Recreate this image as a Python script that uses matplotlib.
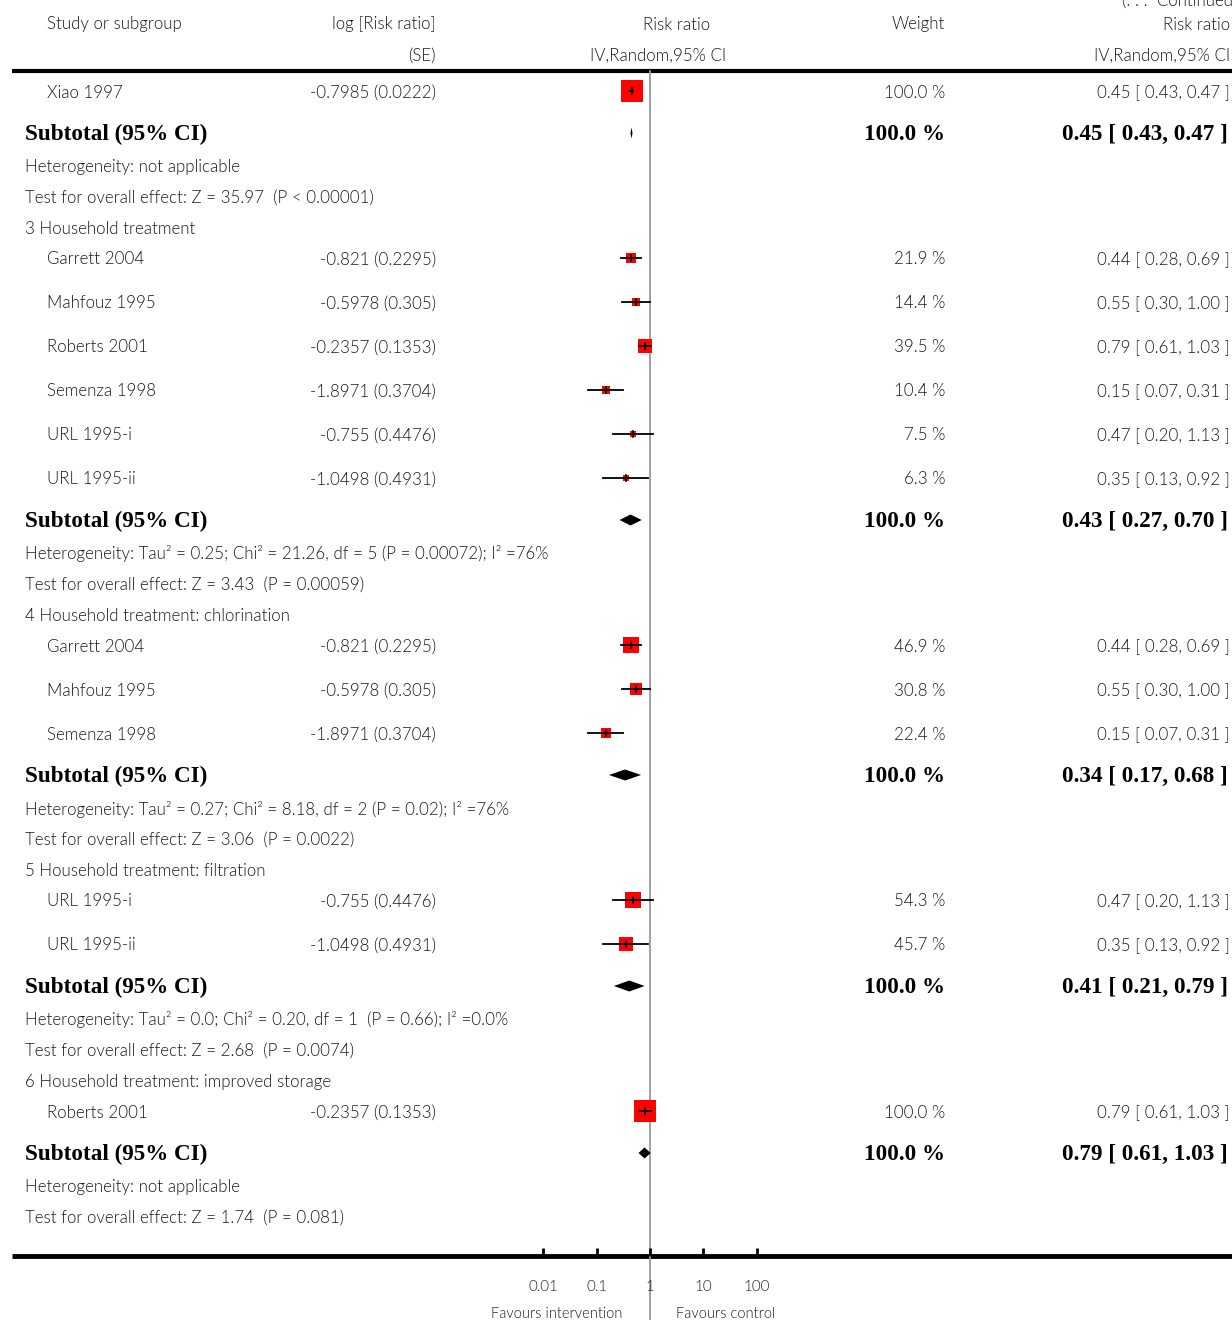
import matplotlib
matplotlib.use("Agg")
import matplotlib.pyplot as plt
import numpy as np

# subgroup data (first block is the tail of a subgroup continued from previous page)
group_titles = [None,
                "3 Household treatment",
                "4 Household treatment: chlorination",
                "5 Household treatment: filtration",
                "6 Household treatment: improved storage"]
group_studies = [["Xiao 1997"],
                 ["Garrett 2004", "Mahfouz 1995", "Roberts 2001", "Semenza 1998", "URL 1995-i", "URL 1995-ii"],
                 ["Garrett 2004", "Mahfouz 1995", "Semenza 1998"],
                 ["URL 1995-i", "URL 1995-ii"],
                 ["Roberts 2001"]]
group_logrr = [[-0.7985],
               [-0.821, -0.5978, -0.2357, -1.8971, -0.755, -1.0498],
               [-0.821, -0.5978, -1.8971],
               [-0.755, -1.0498],
               [-0.2357]]
group_se = [[0.0222],
            [0.2295, 0.305, 0.1353, 0.3704, 0.4476, 0.4931],
            [0.2295, 0.305, 0.3704],
            [0.4476, 0.4931],
            [0.1353]]
group_weight = [[100.0],
                [21.9, 14.4, 39.5, 10.4, 7.5, 6.3],
                [46.9, 30.8, 22.4],
                [54.3, 45.7],
                [100.0]]
group_rr = [[0.45], [0.44, 0.55, 0.79, 0.15, 0.47, 0.35], [0.44, 0.55, 0.15], [0.47, 0.35], [0.79]]
group_lo = [[0.43], [0.28, 0.30, 0.61, 0.07, 0.20, 0.13], [0.28, 0.30, 0.07], [0.20, 0.13], [0.61]]
group_hi = [[0.47], [0.69, 1.00, 1.03, 0.31, 1.13, 0.92], [0.69, 1.00, 0.31], [1.13, 0.92], [1.03]]

sub_rr = [0.45, 0.43, 0.34, 0.41, 0.79]
sub_lo = [0.43, 0.27, 0.17, 0.21, 0.61]
sub_hi = [0.47, 0.70, 0.68, 0.79, 1.03]
heterogeneity = ["Heterogeneity: not applicable",
                 "Heterogeneity: Tau\u00b2 = 0.25; Chi\u00b2 = 21.26, df = 5 (P = 0.00072); I\u00b2 =76%",
                 "Heterogeneity: Tau\u00b2 = 0.27; Chi\u00b2 = 8.18, df = 2 (P = 0.02); I\u00b2 =76%",
                 "Heterogeneity: Tau\u00b2 = 0.0; Chi\u00b2 = 0.20, df = 1  (P = 0.66); I\u00b2 =0.0%",
                 "Heterogeneity: not applicable"]
overall = ["Test for overall effect: Z = 35.97  (P < 0.00001)",
           "Test for overall effect: Z = 3.43  (P = 0.00059)",
           "Test for overall effect: Z = 3.06  (P = 0.0022)",
           "Test for overall effect: Z = 2.68  (P = 0.0074)",
           "Test for overall effect: Z = 1.74  (P = 0.081)"]

tick_vals = [0.01, 0.1, 1, 10, 100]
tick_labels = ["0.01", "0.1", "1", "10", "100"]

SANS = ["Lato", "DejaVu Sans"]
SERIF = ["Liberation Serif", "DejaVu Serif"]
FS = 12.2
BFS = 16.7
WT = 300   # Lato Light
DY = 1.5  # small nudge so text sits like the reference

W, H = 1232, 1320
fig = plt.figure(figsize=(W / 100, H / 100), dpi=100)
tax = fig.add_axes([0, 0, 1, 1])
tax.set_xlim(0, W)
tax.set_ylim(H, 0)
tax.axis("off")

# forest panel: 1 at x=650 px, ~53.3 px per decade
px_dec = 53.3
x_one = 650
left_px, right_px = x_one - 3 * px_dec, x_one + 3 * px_dec
fax = fig.add_axes([left_px / W, 0, (right_px - left_px) / W, 1])
fax.set_xscale("log")
fax.set_xlim(1e-3, 1e3)
fax.set_ylim(H, 0)
fax.patch.set_alpha(0)
for s in ["top", "left", "right"]:
    fax.spines[s].set_visible(False)
fax.spines["bottom"].set_position(("data", 1256))
fax.spines["bottom"].set_color("none")
fax.yaxis.set_visible(False)
fax.set_xticks(tick_vals)
fax.set_xticklabels(tick_labels, family=SANS, fontsize=11, color="#222222", fontweight=WT)
fax.minorticks_off()
fax.tick_params(axis="x", direction="in", length=6, width=2, pad=17, color="black")

def txt(x, y, s, ha="left", bold=False, size=None, **kw):
    if bold:
        tax.text(x, y + DY, s, ha=ha, va="center", family=SERIF, fontweight="bold",
                 fontsize=size or BFS, color="black", **kw)
    else:
        tax.text(x, y + DY, s, ha=ha, va="center", family=SANS, fontsize=size or FS,
                 fontweight=WT, color="#1a1a1a", **kw)

# headers
txt(1122, -1, "(. . .  Continued)")
txt(47, 23, "Study or subgroup")
txt(436, 23, "log [Risk ratio]", ha="right")
txt(436, 54, "(SE)", ha="right")
txt(677, 23, "Risk ratio", ha="center")
txt(658, 54, "IV,Random,95% CI", ha="center")
txt(945, 23, "Weight", ha="right")
txt(1230, 23, "Risk ratio", ha="right")
txt(1230, 54, "IV,Random,95% CI", ha="right")
tax.plot([12, W], [71, 71], color="black", lw=3, solid_capstyle="butt")
tax.plot([12, W], [1256, 1256], color="black", lw=3.5, solid_capstyle="butt")

# null line
fax.plot([1, 1], [71, H], color="#9a9a9a", lw=1.3, zorder=1)

y = 91
for g in range(len(group_studies)):
    if group_titles[g] is not None:
        txt(25, y, group_titles[g])
        y += 30.5
    for i, name in enumerate(group_studies[g]):
        if i > 0:
            y += 44
        txt(47, y, name)
        txt(436, y, "%s (%s)" % (group_logrr[g][i], group_se[g][i]), ha="right")
        txt(945, y, "%.1f %%" % group_weight[g][i], ha="right")
        txt(1230, y, "%.2f [ %.2f, %.2f ]" % (group_rr[g][i], group_lo[g][i], group_hi[g][i]), ha="right")
        side = 22 * np.sqrt(group_weight[g][i] / 100.0)
        fax.scatter([group_rr[g][i]], [y], marker="s", s=(side * 0.72) ** 2,
                    color="#ff0000", linewidths=0, zorder=3)
        fax.plot([group_lo[g][i], group_hi[g][i]], [y, y], color="black", lw=1.3, zorder=4)
        fax.plot([group_rr[g][i], group_rr[g][i]], [y - 3, y + 3], color="black", lw=1.2, zorder=4)
    y += 42
    txt(25, y, "Subtotal (95% CI)", bold=True)
    txt(945, y, "100.0 %", ha="right", bold=True)
    txt(1228, y, "%.2f [ %.2f, %.2f ]" % (sub_rr[g], sub_lo[g], sub_hi[g]), ha="right", bold=True)
    fax.fill([sub_lo[g], sub_rr[g], sub_hi[g], sub_rr[g]], [y, y - 5.5, y, y + 5.5],
             color="black", lw=0, zorder=3)
    y += 32.5
    txt(25, y, heterogeneity[g])
    y += 31
    txt(25, y, overall[g])
    y += 31

txt(622, 1313, "Favours intervention", ha="right", size=10.5)
txt(676, 1313, "Favours control", ha="left", size=10.5)

fig.savefig("out.png", dpi=100)
